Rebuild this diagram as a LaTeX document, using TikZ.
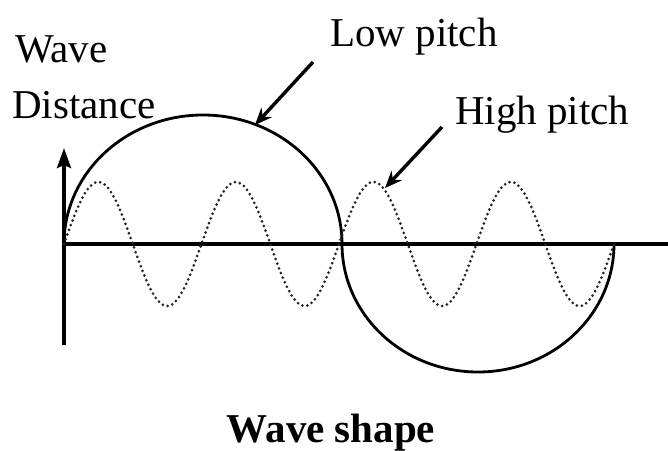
\documentclass[tikz,border=0pt]{standalone}
\usepackage{fontspec}
\setmainfont{Liberation Serif}
\usetikzlibrary{arrows.meta}

\begin{document}
\begin{tikzpicture}[
  x=1pt, y=1pt,
  axisline/.style={line width=3.4pt, black},
  lowwave/.style={line width=2.8pt, black},
  highwave/.style={line width=3pt, black!85, line cap=round, dash pattern=on 0pt off 5pt},
  arr/.style={-{Stealth[length=17pt,width=14pt]}, line width=3.4pt, black},
  label/.style={font=\fontsize{41}{48}\selectfont, inner sep=0pt, anchor=base west},
  title/.style={font=\fontsize{41}{48}\selectfont\bfseries, inner sep=0pt, anchor=base},
]
  \useasboundingbox (0,0) rectangle (668,450);

  \coordinate (origin) at (64,206);
  \coordinate (axbot) at (64,105);
  \coordinate (axtop) at (64,302);
  \coordinate (axend) at (668,206);

  \draw[axisline] (origin) -- (axend);
  \draw[axisline, -{Stealth[length=20pt,width=14pt,inset=3pt]}] (axbot) -- (axtop);

  \draw[lowwave] (origin)
    arc[start angle=180, end angle=0, x radius=139pt, y radius=129pt]
    arc[start angle=180, end angle=360, x radius=136pt, y radius=128pt];

  \draw[highwave, shift={(origin)}]
    plot[domain=0:550, samples=240, smooth] (\x, {62*sin(\x/68.75*180)});

  \node[label] (wave) at (15,387) {Wave};
  \node[label] (dist) at (12,331) {Distance};
  \node[label] (low) at (330,403) {Low pitch};
  \node[label] (high) at (455,325) {High pitch};
  \node[title] (shape) at (331,8) {Wave shape};

  \coordinate (lowtail) at (313,388);
  \coordinate (lowtip) at (255,325);
  \coordinate (hightail) at (442,323);
  \coordinate (hightip) at (385,262);

  \draw[arr] (lowtail) -- (lowtip);
  \draw[arr] (hightail) -- (hightip);
\end{tikzpicture}
\end{document}
